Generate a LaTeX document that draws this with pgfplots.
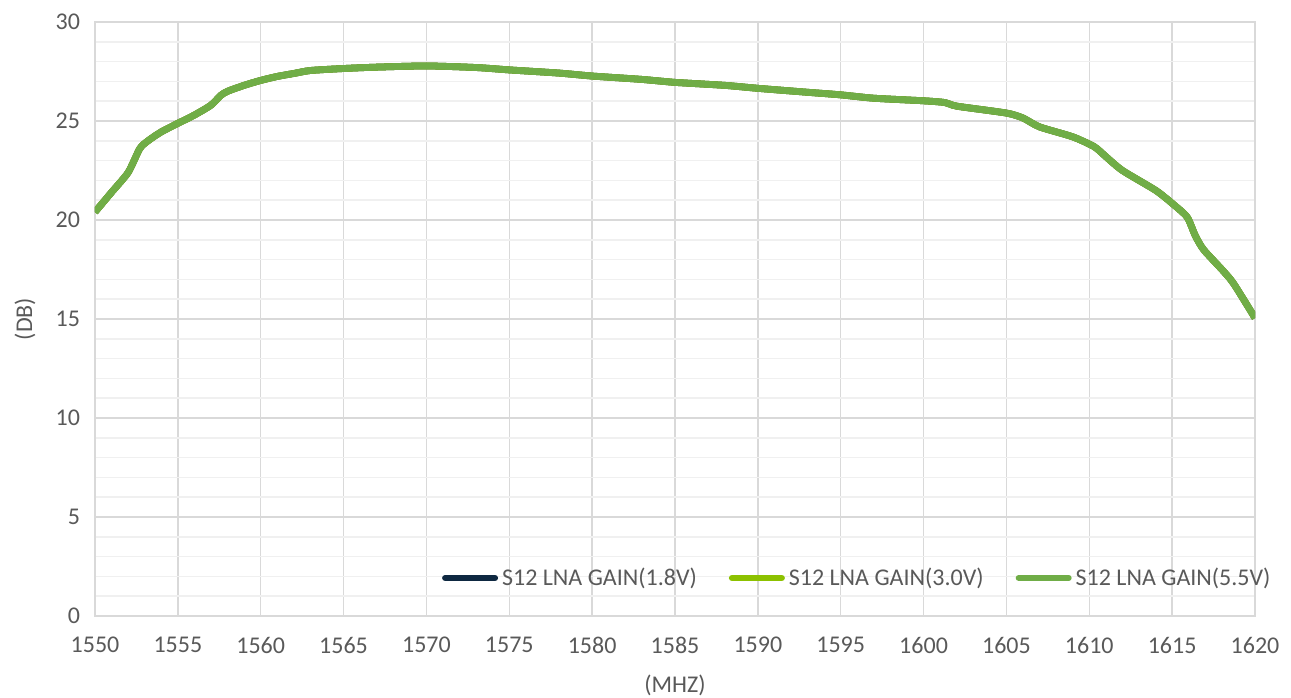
\documentclass[border=0pt]{standalone}
\usepackage{fontspec}
\setmainfont{Carlito}
\usepackage{pgfplots}
\pgfplotsset{compat=1.18}
\definecolor{txt}{HTML}{595959}
\definecolor{gridc}{HTML}{D9D9D9}
\definecolor{minorc}{HTML}{F0F0F0}
\definecolor{sA}{HTML}{0E2841}
\definecolor{sB}{HTML}{8CC100}
\definecolor{sC}{HTML}{70AD47}
\pgfplotstableread{
x y
1550 20.4
1551 21.4
1552 22.4
1552.7 23.6
1553.2 24.0
1554 24.45
1555 24.88
1556 25.3
1557 25.8
1557.6 26.3
1558 26.5
1559 26.8
1560 27.05
1561 27.25
1562 27.4
1563 27.55
1565 27.65
1567 27.72
1570 27.78
1573 27.7
1575 27.58
1578 27.42
1580 27.27
1583 27.1
1585 26.95
1588 26.8
1590 26.65
1593 26.45
1595 26.32
1597 26.15
1600 26.02
1601.3 25.93
1602 25.75
1605 25.4
1606 25.15
1607 24.7
1609 24.2
1610.3 23.7
1611 23.2
1612 22.5
1614 21.5
1615 20.84
1615.9 20.15
1616.4 19.2
1616.9 18.5
1618 17.5
1618.7 16.8
1620 15.05
}\datatab
\begin{document}
\begin{tikzpicture}
\begin{axis}[
  scale only axis, width=580pt, height=297pt,
  xmin=1550, xmax=1620, ymin=0, ymax=30,
  xtick={1550,1555,...,1620}, ytick={0,5,...,30},
  minor y tick num=4,
  grid=both,
  major grid style={color=gridc, line width=0.75pt},
  minor grid style={color=minorc, line width=0.75pt},
  axis line style={draw=gridc, line width=0.75pt},
  tick style={draw=none},
  ticklabel style={font=\fontsize{12}{14}\selectfont, text=txt},
  xticklabel style={yshift=-7pt},
  yticklabel style={xshift=-4pt},
  /pgf/number format/assume math mode=true,
  /pgf/number format/1000 sep={},
  xlabel={(MHZ)}, ylabel={(DB)},
  label style={font=\fontsize{12}{14}\selectfont, text=txt},
  xlabel style={at={(axis description cs:0.5,-0.1162)}, anchor=center},
  ylabel style={at={(axis description cs:-0.0603,0.5)}, anchor=center},
  legend columns=3,
  legend style={draw=none, fill=none, font=\fontsize{12}{14}\selectfont, text=txt,
    at={(axis description cs:0.658,0.064)}, anchor=center,
    /tikz/every even column/.append style={column sep=14pt}},
  legend cell align=left,
  legend image code/.code={\draw[#1, line width=3pt, line cap=round] (0pt,0pt) -- (25pt,0pt);},
]
\addplot[sA, line width=3.4pt, smooth, tension=0.4, line join=round] table[x=x,y=y] {\datatab};
\addlegendentry{S12 LNA GAIN(1.8V)}
\addplot[sB, line width=3.4pt, smooth, tension=0.4, line join=round] table[x=x,y=y] {\datatab};
\addlegendentry{S12 LNA GAIN(3.0V)}
\addplot[sC, line width=3.4pt, smooth, tension=0.4, line join=round] table[x=x,y=y] {\datatab};
\addlegendentry{S12 LNA GAIN(5.5V)}
\end{axis}
\pgfresetboundingbox
\path[use as bounding box] ([shift={(-47.5pt,-41pt)}]current axis.south west) rectangle ([shift={(18pt,11pt)}]current axis.north east);
\end{tikzpicture}
\end{document}
